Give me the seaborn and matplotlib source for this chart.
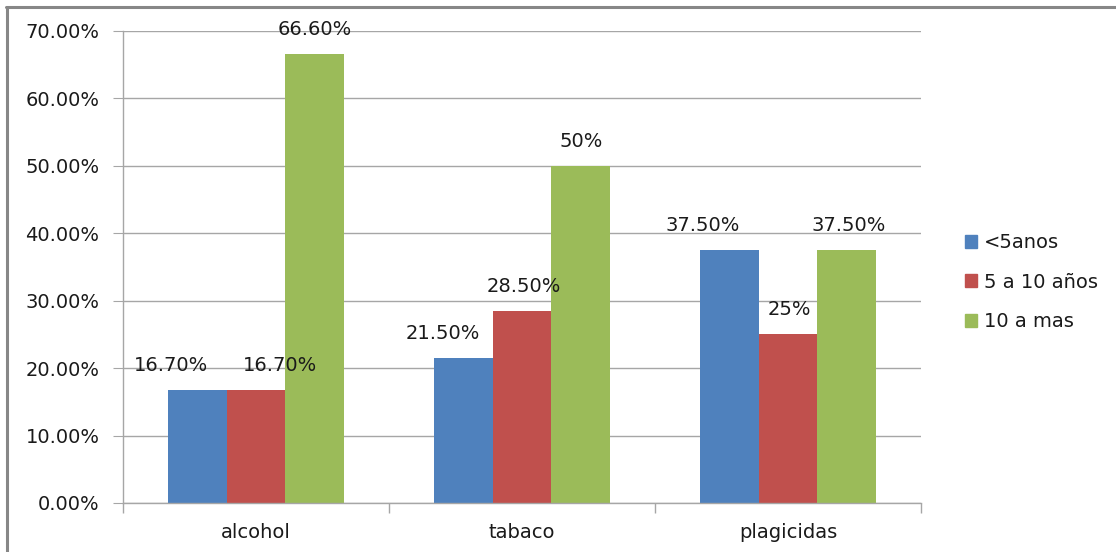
import matplotlib
matplotlib.use("Agg")
import matplotlib.pyplot as plt
import seaborn as sns
import pandas as pd
from matplotlib.lines import Line2D
from matplotlib.ticker import FuncFormatter, FixedLocator

categories = ["alcohol", "tabaco", "plagicidas"]
series_names = ["<5anos", "5 a 10 años", "10 a mas"]
lt5 = [0.167, 0.215, 0.375]
five_ten = [0.167, 0.285, 0.25]
ten_plus = [0.666, 0.50, 0.375]
label_texts = [
    ["16.70%", "21.50%", "37.50%"],
    ["16.70%", "28.50%", "25%"],
    ["66.60%", "50%", "37.50%"],
]
# horizontal label nudges in pixels (styling only)
label_dx = [[-26, -20, -26], [24, 2, 1], [0, 0, 2]]

colors = ["#4F81BD", "#C0504D", "#9BBB59"]

rows = []
for s, vals in zip(series_names, [lt5, five_ten, ten_plus]):
    for c, v in zip(categories, vals):
        rows.append({"cat": c, "serie": s, "val": v})
df = pd.DataFrame(rows)

sns.set_style("white")
plt.rcParams["font.family"] = ["DejaVu Sans"]

FS = 14
W, H = 1116, 552
fig = plt.figure(figsize=(W / 100, H / 100), dpi=100)
ax = fig.add_axes([123 / W, 1 - 503 / H, (921 - 123) / W, (503 - 31) / H])

sns.barplot(data=df, x="cat", y="val", hue="serie", palette=colors,
            order=categories, hue_order=series_names, width=0.665,
            saturation=1, ax=ax, legend=False, edgecolor="none")

ax.set_xlim(-0.5, 2.5)
ax.set_ylim(0, 0.70)
ax.yaxis.set_major_locator(FixedLocator([i / 10 for i in range(8)]))
ax.yaxis.set_major_formatter(FuncFormatter(lambda v, p: f"{v*100:.2f}%"))
ax.grid(axis="y", color="#A6A6A6", linewidth=1.0)
ax.set_axisbelow(True)
ax.set_xlabel("")
ax.set_ylabel("")

for side in ["top", "right"]:
    ax.spines[side].set_visible(False)
for side in ["left", "bottom"]:
    ax.spines[side].set_color("#A6A6A6")
    ax.spines[side].set_linewidth(1.0)

ax.tick_params(axis="y", which="major", left=True, length=7, color="#A6A6A6",
               labelsize=FS, labelcolor="#1a1a1a", pad=10)
ax.set_xticks(range(len(categories)))
ax.set_xticklabels(categories)
ax.tick_params(axis="x", which="major", bottom=False, labelsize=FS,
               labelcolor="#1a1a1a", pad=11)
ax.set_xticks([-0.5, 0.5, 1.5, 2.5], minor=True)
ax.tick_params(axis="x", which="minor", bottom=True, length=7,
               color="#A6A6A6", width=1.0)

# data labels
for si, cont in enumerate(ax.containers):
    for ci, bar in enumerate(cont):
        x = bar.get_x() + bar.get_width() / 2
        y = bar.get_height()
        ax.annotate(label_texts[si][ci], (x, y),
                    xytext=(label_dx[si][ci] * 0.72, 11), textcoords="offset points",
                    ha="center", va="bottom", fontsize=FS, color="#1a1a1a")

# legend
handles = [plt.Rectangle((0, 0), 1, 1, color=c) for c in colors]
fig.legend(handles, series_names, loc="center left",
           bbox_to_anchor=(947 / W, 1 - 282 / H), frameon=False,
           fontsize=FS, handlelength=0.65, handleheight=0.65,
           handletextpad=0.35, labelspacing=1.05, labelcolor="#1a1a1a")

# outer border (top and left visible)
fig.add_artist(Line2D([6 / W, 1], [1 - 6.5 / H, 1 - 6.5 / H], transform=fig.transFigure,
                      color="#878787", linewidth=2.2))
fig.add_artist(Line2D([6.5 / W, 6.5 / W], [0, 1 - 6.5 / H], transform=fig.transFigure,
                      color="#878787", linewidth=2.2))

fig.savefig("out.png", dpi=100, facecolor="white")
